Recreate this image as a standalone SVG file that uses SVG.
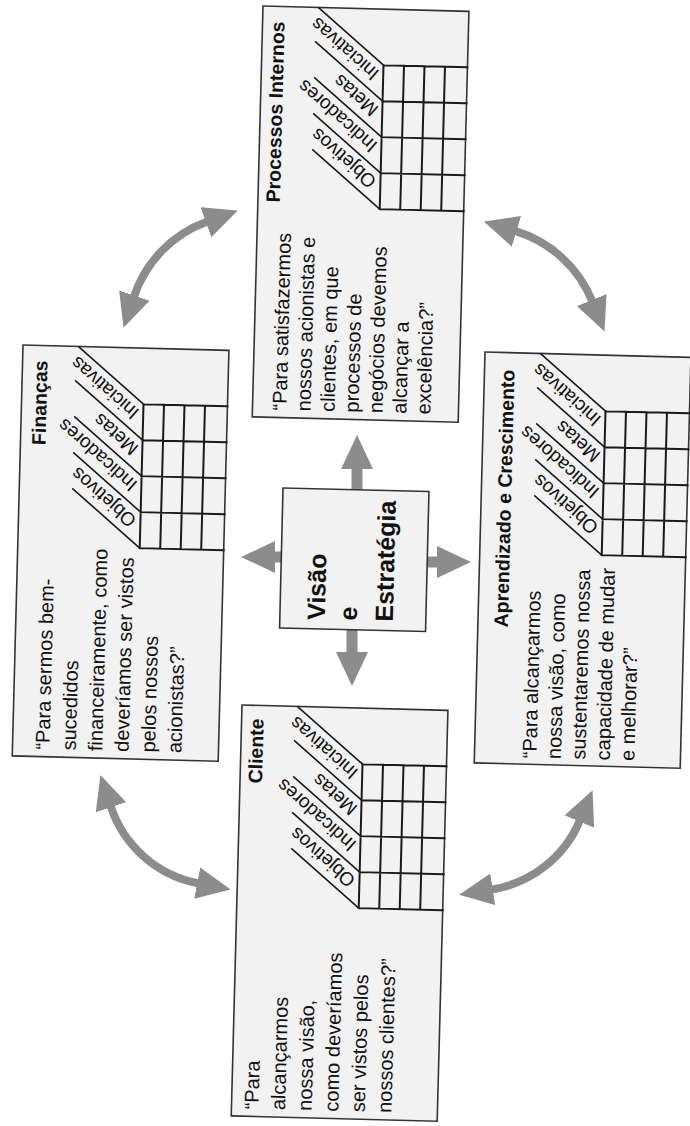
<svg xmlns="http://www.w3.org/2000/svg" xmlns:xlink="http://www.w3.org/1999/xlink" width="690" height="1126" viewBox="0 0 690 1126">
<style>
.box{fill:#f2f2f2;stroke:#333;stroke-width:1.6}
.grid{stroke:#1a1a1a;stroke-width:2;fill:none;stroke-linecap:square}
.diag{stroke:#1a1a1a;stroke-width:1.6;fill:none}
.title{font-family:'Liberation Sans',Arial,Helvetica,sans-serif;font-weight:bold;font-size:19.5px;fill:#111}
.body{font-family:'Liberation Sans',Arial,Helvetica,sans-serif;font-size:20px;fill:#111}
.lbl{font-family:'Liberation Sans',Arial,Helvetica,sans-serif;font-size:19px;fill:#111}
.center{font-family:'Liberation Sans',Arial,Helvetica,sans-serif;font-weight:bold;font-size:25px;fill:#111}
.arc{stroke:#8c8c8c;stroke-width:8;fill:none}
.straight{stroke:#8c8c8c;stroke-width:11;fill:none}
</style>
<defs>
<marker id="head" markerUnits="userSpaceOnUse" viewBox="0 0 36 34" markerWidth="36" markerHeight="34" refX="1" refY="16" orient="auto-start-reverse">
<path d="M0,0 L34,16 L0,32 Z" fill="#8c8c8c"/>
</marker>
<g id="card">
<rect class="box" x="0" y="0" width="206" height="411"/>
<path class="grid" d="M122,56 H206 M122,92 H206 M122,128 H206 M122,164 H206 M122,200 H206 M122,56 V200 M142.5,56 V200 M163,56 V200 M183.5,56 V200"/>
<path class="diag" d="M122,56 L55.3,0 M122,92 L53,34 M122,128 L53,70 M122,164 L53,106 M122,200 L53,142"/>
<text class="lbl" transform="translate(122,56) rotate(-140)" x="-2" y="-7">Iniciativas</text>
<text class="lbl" transform="translate(122,92) rotate(-140)" x="-2" y="-7">Metas</text>
<text class="lbl" transform="translate(122,128) rotate(-140)" x="-2" y="-7">Indicadores</text>
<text class="lbl" transform="translate(122,164) rotate(-140)" x="-2" y="-7">Objetivos</text>
</g>
</defs>
<rect x="0" y="0" width="690" height="1126" fill="#ffffff"/>

<g id="connectors">
<path class="arc" d="M 206.8 221.8 A 120 120 0 0 0 134 296.5" marker-start="url(#head)" marker-end="url(#head)"/>
<path class="arc" d="M 515.5 231.1 A 120 120 0 0 1 592.1 301.0" marker-start="url(#head)" marker-end="url(#head)"/>
<path class="arc" d="M 110.7 806.3 A 115 115 0 0 0 198.2 883.3" marker-start="url(#head)" marker-end="url(#head)"/>
<path class="arc" d="M 579.8 820.6 A 115 115 0 0 1 491.8 889.5" marker-start="url(#head)" marker-end="url(#head)"/>
<path class="straight" d="M357,490 L357,468" marker-end="url(#head)"/>
<path class="straight" d="M284,557 L274,557" marker-end="url(#head)"/>
<path class="straight" d="M428,562 L438,562" marker-end="url(#head)"/>
<path class="straight" d="M352,628 L352,653" marker-end="url(#head)"/>
</g>

<g id="processos-internos" transform="translate(263,6) rotate(1.5)">
<use xlink:href="#card" href="#card"/>
<text class="title" transform="translate(22,15) rotate(-90)" text-anchor="end">Processos Internos</text>
<text class="body" transform="translate(0,404) rotate(-90)">
<tspan x="0" y="34">“Para satisfazermos</tspan>
<tspan x="0" dy="24">nossos acionistas e</tspan>
<tspan x="0" dy="24">clientes, em que</tspan>
<tspan x="0" dy="24">processos de</tspan>
<tspan x="0" dy="24">negócios devemos</tspan>
<tspan x="0" dy="24">alcançar a</tspan>
<tspan x="0" dy="24">excelência?”</tspan>
</text>
</g>

<g id="financas" transform="translate(23,345) rotate(1.5)">
<use xlink:href="#card" href="#card"/>
<text class="title" transform="translate(25,15) rotate(-90)" text-anchor="end">Finanças</text>
<text class="body" transform="translate(0,404) rotate(-90)">
<tspan x="0" y="37">“Para sermos bem-</tspan>
<tspan x="0" dy="26.4">sucedidos</tspan>
<tspan x="0" dy="26.4">financeiramente, como</tspan>
<tspan x="0" dy="26.4">deveríamos ser vistos</tspan>
<tspan x="0" dy="26.4">pelos nossos</tspan>
<tspan x="0" dy="26.4">acionistas?”</tspan>
</text>
</g>

<g id="aprendizado-crescimento" transform="translate(485,352) rotate(1.5)">
<use xlink:href="#card" href="#card"/>
<text class="title" transform="translate(30,17) rotate(-90)" text-anchor="end">Aprendizado e Crescimento</text>
<text class="body" transform="translate(0,405) rotate(-90)">
<tspan x="0" y="62">“Para alcançarmos</tspan>
<tspan x="0" dy="24.5">nossa visão, como</tspan>
<tspan x="0" dy="24.5">sustentaremos nossa</tspan>
<tspan x="0" dy="24.5">capacidade de mudar</tspan>
<tspan x="0" dy="24.5">e melhorar?”</tspan>
</text>
</g>

<g id="cliente" transform="translate(242,705) rotate(1.5)">
<use xlink:href="#card" href="#card"/>
<text class="title" transform="translate(22,13) rotate(-90)" text-anchor="end">Cliente</text>
<text class="body" transform="translate(0,404) rotate(-90)">
<tspan x="0" y="27">“Para</tspan>
<tspan x="0" dy="26.6">alcançarmos</tspan>
<tspan x="0" dy="26.6">nossa visão,</tspan>
<tspan x="0" dy="26.6">como deveríamos</tspan>
<tspan x="0" dy="26.6">ser vistos pelos</tspan>
<tspan x="0" dy="26.6">nossos clientes?”</tspan>
</text>
</g>

<g id="visao-estrategia" transform="translate(283,488) rotate(1.4)">
<rect class="box" x="0" y="0" width="146" height="140"/>
<text class="center" transform="translate(0,131) rotate(-90)">
<tspan x="0" y="45">Visão</tspan>
<tspan x="0" y="77">e</tspan>
<tspan x="0" y="113">Estratégia</tspan>
</text>
</g>
</svg>
